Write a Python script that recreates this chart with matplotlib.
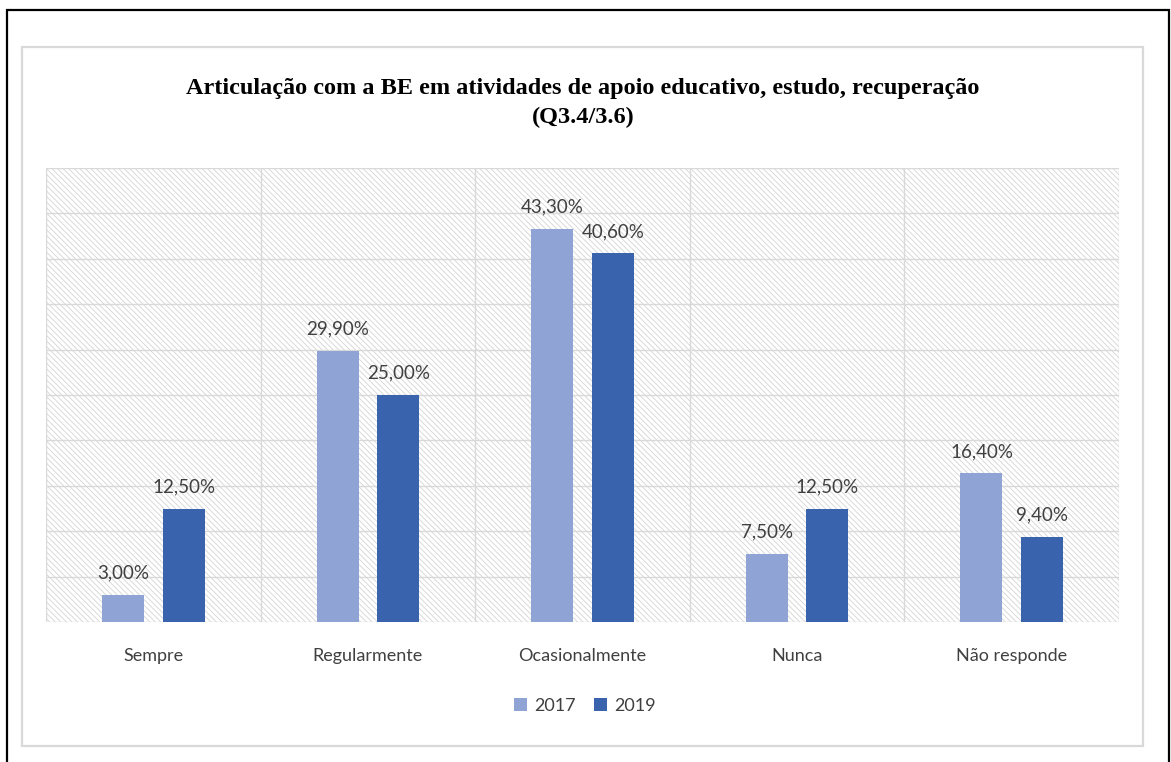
import matplotlib.pyplot as plt
from matplotlib.patches import Rectangle

# data
categories = ['Sempre', 'Regularmente', 'Ocasionalmente', 'Nunca', 'Não responde']
vals_2017 = [3.0, 29.9, 43.3, 7.5, 16.4]
vals_2019 = [12.5, 25.0, 40.6, 12.5, 9.4]
series_names = ['2017', '2019']
colors = ['#8FA3D5', '#3A63AD']
title = 'Articulação com a BE em atividades de apoio educativo, estudo, recuperação\n(Q3.4/3.6)'

W, H = 1171, 762
fig = plt.figure(figsize=(W / 100, H / 100), dpi=100)
fig.patch.set_facecolor('white')

# outer black frame and inner grey chart frame (pixel coords -> fig fraction)
def frame(x0, y0, x1, y1, color, lw):
    fig.add_artist(Rectangle((x0 / W, 1 - y1 / H), (x1 - x0) / W, (y1 - y0) / H,
                             transform=fig.transFigure, fill=False,
                             edgecolor=color, linewidth=lw))
frame(7, 10, 1169, 770, 'black', 1.6)
frame(22, 47, 1143, 746, '#d9d9d9', 1.6)

ax = fig.add_axes([46 / W, 1 - 622 / H, (1119 - 46) / W, (622 - 168) / H])
ax.set_facecolor('white')

# hatched plot area background
plt.rcParams['hatch.linewidth'] = 0.6
bg = Rectangle((0, 0), 1, 1, transform=ax.transAxes, facecolor='white',
               edgecolor='#d4d4d4', hatch='\\' * 6, linewidth=0, zorder=0)
ax.add_patch(bg)

x = list(range(len(categories)))
bw = 0.196
off = 0.141
b1 = ax.bar([i - off for i in x], vals_2017, bw, color=colors[0], label=series_names[0], zorder=3)
b2 = ax.bar([i + off for i in x], vals_2019, bw, color=colors[1], label=series_names[1], zorder=3)

for bars, vals in ((b1, vals_2017), (b2, vals_2019)):
    for b, v in zip(bars, vals):
        ax.annotate(f'{v:.2f}%'.replace('.', ','), (b.get_x() + b.get_width() / 2, v),
                    xytext=(0, 9.5), textcoords='offset points', ha='center', va='bottom',
                    fontsize=13.5, color='#404040', family='Lato', zorder=4)

ax.set_xlim(-0.5, len(categories) - 0.5)
ax.set_ylim(0, 50)
ax.set_yticks(range(0, 51, 5))
ax.set_yticklabels([])
ax.set_xticks(x)
ax.set_xticklabels(categories, fontsize=13, color='#404040', family='Lato')
ax.set_xticks([i + 0.5 for i in range(-1, len(categories))], minor=True)
ax.tick_params(axis='both', which='both', length=0)
ax.tick_params(axis='x', pad=19)
ax.grid(axis='y', color='#d9d9d9', linewidth=1, zorder=1)
ax.grid(axis='x', which='minor', color='#d9d9d9', linewidth=1, zorder=1)
ax.grid(axis='x', which='major', visible=False)
ax.set_axisbelow(True)
for s in ax.spines.values():
    s.set_visible(False)

fig.text(583 / W, 1 - 103 / H, title, ha='center', va='center', fontsize=17.5,
         fontweight='bold', family='Liberation Serif', color='black', linespacing=1.45)

leg = fig.legend(handles=[b1, b2], loc='center', bbox_to_anchor=(585 / W, 1 - 706 / H),
                 ncol=2, frameon=False, handlelength=0.7, handleheight=0.7,
                 handletextpad=0.4, columnspacing=1.0, prop={'family': 'Lato', 'size': 13})
for t in leg.get_texts():
    t.set_color('#404040')

plt.savefig('out.png', dpi=100)
